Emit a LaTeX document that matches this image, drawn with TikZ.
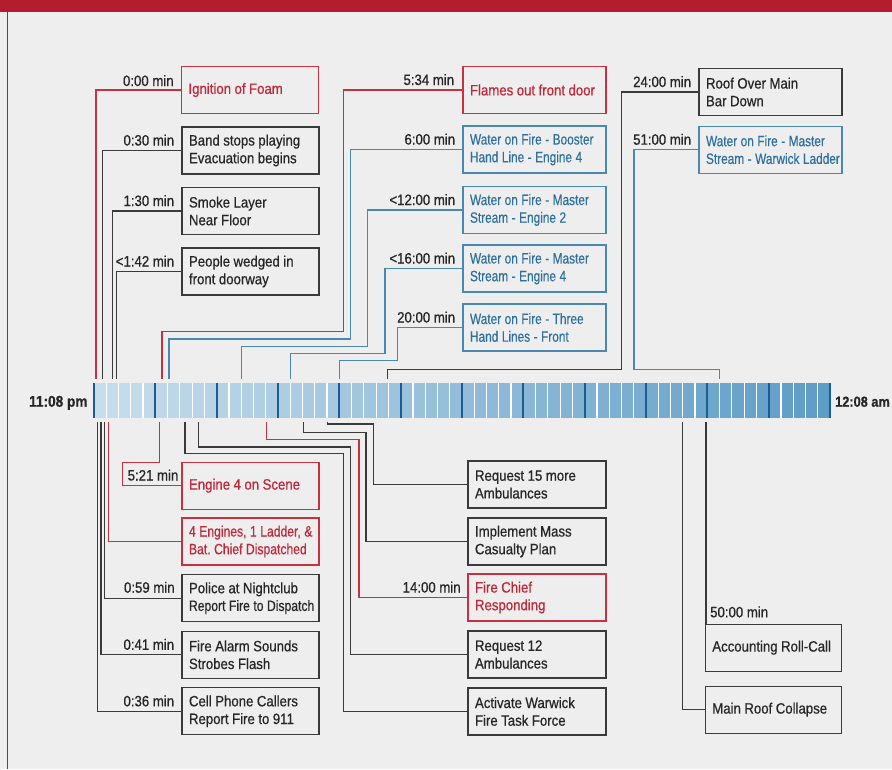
\documentclass[tikz,border=0pt]{standalone}
\usepackage{fontspec}
\setmainfont{Liberation Sans}[FakeStretch=0.88, FakeBold=0.6]
\newfontfamily\bluefont{Liberation Sans}[FakeStretch=0.79, FakeBold=0.4]
\newfontfamily\narrowfont{Liberation Sans}[FakeStretch=0.81, FakeBold=0.5]
\usetikzlibrary{calc}
\definecolor{bgc}{HTML}{EEEEEE}
\definecolor{framec}{HTML}{B31E2E}
\definecolor{redc}{HTML}{C0283A}
\definecolor{redb}{HTML}{C8313F}
\definecolor{bluec}{HTML}{2E6F9E}
\definecolor{blueb}{HTML}{4A88B4}
\definecolor{darkc}{HTML}{262626}
\definecolor{darkb}{HTML}{3A3A3A}
\definecolor{barL}{HTML}{C8DDEC}
\definecolor{barR}{HTML}{5E9DC6}
\definecolor{tickc}{HTML}{1B5C94}
\newcommand\oneLn[1]{\mbox{#1}}
\begin{document}
\begin{tikzpicture}[x=1pt,y=-1pt,
  box/.style={draw, line width=1.3pt, inner xsep=7pt, inner ysep=0pt,
    minimum height=47pt, align=left, font=\fontsize{15}{17.7}\selectfont,
    execute at begin node={\spaceskip=3.5pt\xspaceskip=3.5pt}},
  cA/.style={text width=123pt},
  cB/.style={text width=129pt},
  cC/.style={text width=124pt},
  cD/.style={text width=122pt},
  rbox/.style={box, draw=redb, text=redc},
  bbox/.style={box, draw=blueb, text=bluec, font=\bluefont\fontsize{15}{17.7}\selectfont},
  kbox/.style={box, draw=darkb, text=darkc},
  rline/.style={draw=redb, line width=1.1pt},
  bline/.style={draw=blueb, line width=1.1pt},
  kline/.style={draw=darkb, line width=1.1pt},
  tlab/.style={font=\fontsize{15}{17}\selectfont, text=darkc, inner sep=0pt},
  elab/.style={font=\bfseries\fontsize{15.5}{18}\selectfont, text=darkc, inner sep=0pt},
]
\useasboundingbox (0,0) rectangle (892,769);
% frame
\fill[bgc] (0,0) rectangle (892,769);
\fill[framec] (0,0) rectangle (892,12);
\draw[framec, line width=1.2pt] (7.3,12) -- (7.3,769);

% timeline bar
\foreach \i in {0,...,59} {
  \pgfmathsetmacro\p{\i*100/59}
  \fill[barR!\p!barL] (94+\i*12.2667,383) rectangle ++(12.2667,35);
}
\foreach \i in {1,...,59} {
  \draw[white, line width=1.2pt] (94+\i*12.2667,383) -- ++(0,35);
}
\foreach \i in {0,5,...,60} {
  \draw[tickc, line width=1.7pt] (94+\i*12.2667,383) -- ++(0,35);
}
\node[elab, anchor=base east] (start) at (87.7,406.7) {11:08 pm};
\node[elab, anchor=base west, font=\bfseries\fontsize{14.5}{18}\selectfont] (end) at (835,406.7) {12:08 am};

% top-left column
\node[rbox,cA] (ign) at (250,90) {\oneLn{Ignition of Foam}};
\node[kbox,cA] (band) at (250.5,150.5) {\oneLn{Band stops playing}\\\oneLn{Evacuation begins}};
\node[kbox,cA] (smoke) at (250.5,211) {\oneLn{Smoke Layer}\\\oneLn{Near Floor}};
\node[kbox,cA] (wedge) at (250.5,271.5) {\oneLn{People wedged in}\\\oneLn{front doorway}};

% top-middle column
\node[rbox,cB] (flames) at (534.5,90) {\oneLn{Flames out front door}};
\node[bbox,cB] (boost) at (534.5,149.5) {\oneLn{Water on Fire - Booster}\\\oneLn{Hand Line - Engine 4}};
\node[bbox,cB] (ms2) at (534.5,210) {\oneLn{Water on Fire - Master}\\\oneLn{Stream - Engine 2}};
\node[bbox,cB] (ms4) at (534.5,268.5) {\oneLn{Water on Fire - Master}\\\oneLn{Stream - Engine 4}};
\node[bbox,cB] (three) at (534.5,327.5) {\oneLn{Water on Fire - Three}\\\oneLn{Hand Lines - Front}};

% top-right column
\node[kbox,cB] (roof) at (770.5,92) {\oneLn{Roof Over Main}\\\oneLn{Bar Down}};
\node[bbox,cB] (mswl) at (770.5,149.7) {\oneLn{Water on Fire - Master}\\\oneLn{Stream - Warwick Ladder}};

% bottom-left column
\node[rbox,cA] (scene) at (250.5,485.7) {\oneLn{Engine 4 on Scene}};
\node[rbox,cA] (disp) at (250.5,541.5) {\oneLn{\narrowfont 4 Engines, 1 Ladder, \&}\\\oneLn{\narrowfont Bat. Chief Dispatched}};
\node[kbox,cA] (police) at (250.5,598.2) {\oneLn{Police at Nightclub}\\\oneLn{\narrowfont Report Fire to Dispatch}};
\node[kbox,cA] (alarm) at (250.5,654.8) {\oneLn{Fire Alarm Sounds}\\\oneLn{Strobes Flash}};
\node[kbox,cA] (cell) at (250.5,711.3) {\oneLn{Cell Phone Callers}\\\oneLn{Report Fire to 911}};

% bottom-middle column
\node[kbox,cC] (req15) at (537,484.5) {\oneLn{Request 15 more}\\\oneLn{Ambulances}};
\node[kbox,cC] (mass) at (537,541.5) {\oneLn{Implement Mass}\\\oneLn{Casualty Plan}};
\node[rbox,cC] (chief) at (537,597.5) {\oneLn{Fire Chief}\\\oneLn{Responding}};
\node[kbox,cC] (req12) at (537,654.5) {\oneLn{Request 12}\\\oneLn{Ambulances}};
\node[kbox,cC] (warw) at (537,711.5) {\oneLn{Activate Warwick}\\\oneLn{Fire Task Force}};

% bottom-right column
\node[kbox,cD] (acct) at (773.3,647.7) {\oneLn{Accounting Roll-Call}};
\node[kbox,cD] (coll) at (773.3,709.7) {\oneLn{Main Roof Collapse}};

% connector ends on the bar (top side)
\coordinate (u000) at (96,379);
\coordinate (u030) at (102.7,379);
\coordinate (u130) at (112.7,379);
\coordinate (u142) at (116.3,379);
\coordinate (u534) at (162,379);
\coordinate (u600) at (169,379);
\coordinate (u1200) at (241.7,379);
\coordinate (u1600) at (290.7,379);
\coordinate (u2000) at (339.3,379);
\coordinate (u2400) at (387.7,379);
\coordinate (u5100) at (719.3,379);

\draw[rline] (ign.west) -| (u000);
\draw[kline] (band.west) -| (u030);
\draw[kline] (smoke.west) -| (u130);
\draw[kline] (wedge.west) -| (u142);
\draw[rline] (flames.west) -| (343.3,331.7) -| (u534);
\draw[bline] (boost.west) -| (350.7,339) -| (u600);
\draw[bline] (ms2.west) -| (367.7,346.3) -| (u1200);
\draw[bline] (ms4.west) -| (385,353.7) -| (u1600);
\draw[bline] (three.west) -| (397.3,360.7) -| (u2000);
\draw[kline] (roof.west) -| (621.7,369.3) -| (u2400);
\draw[bline] (mswl.west) -| (634,369.3) -| (u5100);

% connector ends on the bar (bottom side)
\coordinate (d036) at (97.3,422);
\coordinate (d041) at (101,422);
\coordinate (d059) at (104.8,422);
\coordinate (ddis) at (108.3,422);
\coordinate (d521) at (159.7,422);
\coordinate (dwar) at (185,422);
\coordinate (dr12) at (198.3,422);
\coordinate (dchf) at (266.7,422);
\coordinate (dmas) at (303.3,422);
\coordinate (dr15) at (327.3,422);
\coordinate (dcol) at (682.7,422);
\coordinate (dacc) at (706,422);

\draw[kline] (d036) |- (cell.west);
\draw[kline] (d041) |- (alarm.west);
\draw[kline] (d059) |- (police.west);
\draw[rline] (ddis) |- (disp.west);
\draw[rline] (d521) |- (122.3,462.7) |- (scene.west);
\draw[kline] (dwar) |- (343.3,453.5) |- (warw.west);
\draw[kline] (dr12) |- (350.7,447) |- (req12.west);
\draw[rline] (dchf) |- (359,439.7) |- (chief.west);
\draw[kline] (dmas) |- (366,432.7) |- (mass.west);
\draw[kline] (dr15) |- (373.3,424) |- (req15.west);
\draw[kline] (dcol) |- (coll.west);
\draw[kline] (dacc) -- (dacc |- acct.north);

% time labels
\node[tlab, anchor=base east] (l000) at ($(ign.west)+(-7,-4)$) {0:00 min};
\node[tlab, anchor=base east] (l030) at ($(band.west)+(-7,-5)$) {0:30 min};
\node[tlab, anchor=base east] (l130) at ($(smoke.west)+(-7,-5)$) {1:30 min};
\node[tlab, anchor=base east] (l142) at ($(wedge.west)+(-7,-5)$) {<1:42 min};
\node[tlab, anchor=base east] (l534) at ($(flames.west)+(-8,-5)$) {5:34 min};
\node[tlab, anchor=base east] (l600) at ($(boost.west)+(-7,-5)$) {6:00 min};
\node[tlab, anchor=base east] (l1200) at ($(ms2.west)+(-7,-5)$) {<12:00 min};
\node[tlab, anchor=base east] (l1600) at ($(ms4.west)+(-7,-5)$) {<16:00 min};
\node[tlab, anchor=base east] (l2000) at ($(three.west)+(-7,-5)$) {20:00 min};
\node[tlab, anchor=base east] (l2400) at ($(roof.west)+(-7,-5)$) {24:00 min};
\node[tlab, anchor=base east] (l5100) at ($(mswl.west)+(-7,-5)$) {51:00 min};
\node[tlab, anchor=base west] (l521) at (127.5,480.5) {5:21 min};
\node[tlab, anchor=base east] (l059) at ($(police.west)+(-6.5,-5.5)$) {0:59 min};
\node[tlab, anchor=base east] (l041) at ($(alarm.west)+(-7,-5)$) {0:41 min};
\node[tlab, anchor=base east] (l036) at ($(cell.west)+(-7,-5)$) {0:36 min};
\node[tlab, anchor=base east] (l1400) at ($(chief.west)+(-6.5,-5)$) {14:00 min};
\node[tlab, anchor=base west] (l5000) at (710,617.3) {50:00 min};
\end{tikzpicture}
\end{document}
